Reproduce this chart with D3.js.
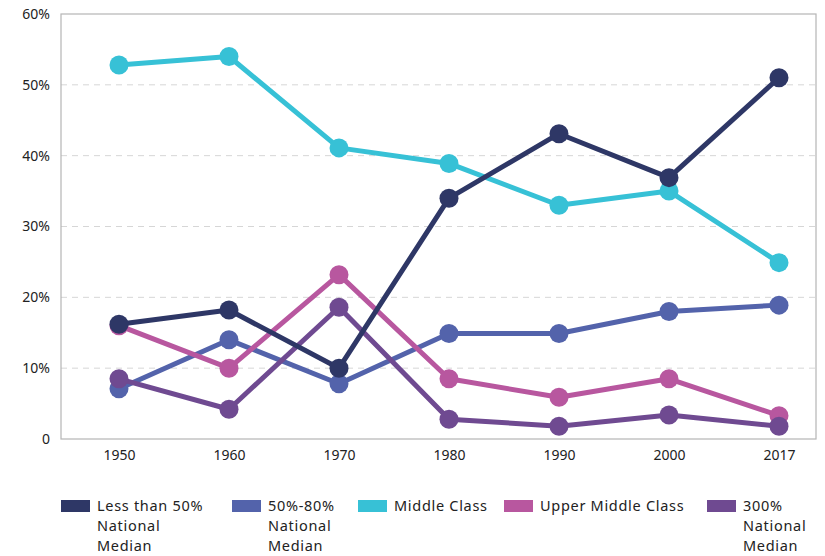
<!DOCTYPE html>
<html>
<head>
<meta charset="utf-8">
<script src="https://cdn.jsdelivr.net/npm/d3@7"></script>
<style>
  body { margin: 0; background: #fff; }
  text { font-family: "Noto Sans", Lato, sans-serif; fill: #222; }
</style>
</head>
<body>
<script>
// years along the bottom
var years = ["1950", "1960", "1970", "1980", "1990", "2000", "2017"];

// share of households (%) per group
var lessThan50 = [16.2, 18.2, 10.0, 34.0, 43.1, 36.9, 51.0];
var from50to80 = [7.1, 14.0, 7.8, 14.9, 14.9, 18.0, 18.9];
var middleClass = [52.8, 54.0, 41.1, 38.9, 33.0, 35.0, 24.9];
var upperMiddle = [16.0, 10.0, 23.2, 8.5, 5.9, 8.5, 3.3];
var over300 = [8.5, 4.2, 18.6, 2.8, 1.8, 3.4, 1.8];

var yTicks = [0, 10, 20, 30, 40, 50, 60];

var series = [
  {name: ["Middle Class"], values: middleClass, color: "#37c1d6"},
  {name: ["50%-80%", "National", "Median"], values: from50to80, color: "#5363ab"},
  {name: ["Upper Middle Class"], values: upperMiddle, color: "#b8579f"},
  {name: ["300%", "National", "Median"], values: over300, color: "#6f4a91"},
  {name: ["Less than 50%", "National", "Median"], values: lessThan50, color: "#2e3766"}
];

// legend order as in the picture
var legendOrder = [4, 1, 0, 2, 3];
var legendX = [61, 232, 358, 504, 707];

var width = 825, height = 556;
var plot = {left: 61, right: 816, top: 14, bottom: 439};

var svg = d3.select("body").append("svg")
    .attr("width", width)
    .attr("height", height);

var x = d3.scalePoint()
    .domain(years)
    .range([119, 779]);

var y = d3.scaleLinear()
    .domain([0, 60])
    .range([plot.bottom, plot.top]);

// dashed gridlines
svg.append("g")
    .selectAll("line")
    .data(yTicks.filter(function(t){ return t > 0 && t < 60; }))
    .enter().append("line")
    .attr("x1", plot.left)
    .attr("x2", plot.right)
    .attr("y1", function(d){ return y(d); })
    .attr("y2", function(d){ return y(d); })
    .attr("stroke", "#d6d6d6")
    .attr("stroke-width", 1)
    .attr("stroke-dasharray", "6,5");

// frame
svg.append("rect")
    .attr("x", plot.left)
    .attr("y", plot.top)
    .attr("width", plot.right - plot.left)
    .attr("height", plot.bottom - plot.top)
    .attr("fill", "none")
    .attr("stroke", "#b5b5b5")
    .attr("stroke-width", 1.2);

// y axis labels
svg.append("g")
    .attr("transform", "translate(" + plot.left + ",0)")
    .call(d3.axisLeft(y).tickValues(yTicks).tickSize(0).tickPadding(11)
        .tickFormat(function(d){ return d === 0 ? "0" : d + "%"; }))
    .call(function(g){
        g.select(".domain").remove();
        g.selectAll("text").style("font-size", "14px").style("font-family", "'Noto Sans', sans-serif").attr("fill", "#222");
    });

// x axis labels
svg.append("g")
    .attr("transform", "translate(0," + plot.bottom + ")")
    .call(d3.axisBottom(x).tickSize(0).tickPadding(11))
    .call(function(g){
        g.select(".domain").remove();
        g.selectAll("text").style("font-size", "14px").style("font-family", "'Noto Sans', sans-serif").attr("fill", "#222");
    });

var line = d3.line()
    .x(function(d, i){ return x(years[i]); })
    .y(function(d){ return y(d); });

var groups = svg.selectAll(".series")
    .data(series)
    .enter().append("g")
    .attr("class", "series");

groups.append("path")
    .attr("d", function(s){ return line(s.values); })
    .attr("fill", "none")
    .attr("stroke", function(s){ return s.color; })
    .attr("stroke-width", 5)
    .attr("stroke-linejoin", "round");

groups.selectAll("circle")
    .data(function(s){ return s.values.map(function(v, i){ return {v: v, i: i, color: s.color}; }); })
    .enter().append("circle")
    .attr("cx", function(d){ return x(years[d.i]); })
    .attr("cy", function(d){ return y(d.v); })
    .attr("r", 9.5)
    .attr("fill", function(d){ return d.color; });

// legend
var legend = svg.selectAll(".legend")
    .data(legendOrder)
    .enter().append("g")
    .attr("class", "legend")
    .attr("transform", function(d, i){ return "translate(" + legendX[i] + ",500)"; });

legend.append("rect")
    .attr("width", 29)
    .attr("height", 12)
    .attr("fill", function(d){ return series[d].color; });

// one text per legend line so the lines keep apart
legend.selectAll("text")
    .data(function(d){ return series[d].name; })
    .enter().append("text")
    .attr("x", 36)
    .attr("y", function(d, i){ return 11 + i * 20; })
    .style("font-size", "14.5px")
    .style("letter-spacing", "0.7px")
    .text(function(d){ return d; });
</script>
</body>
</html>
